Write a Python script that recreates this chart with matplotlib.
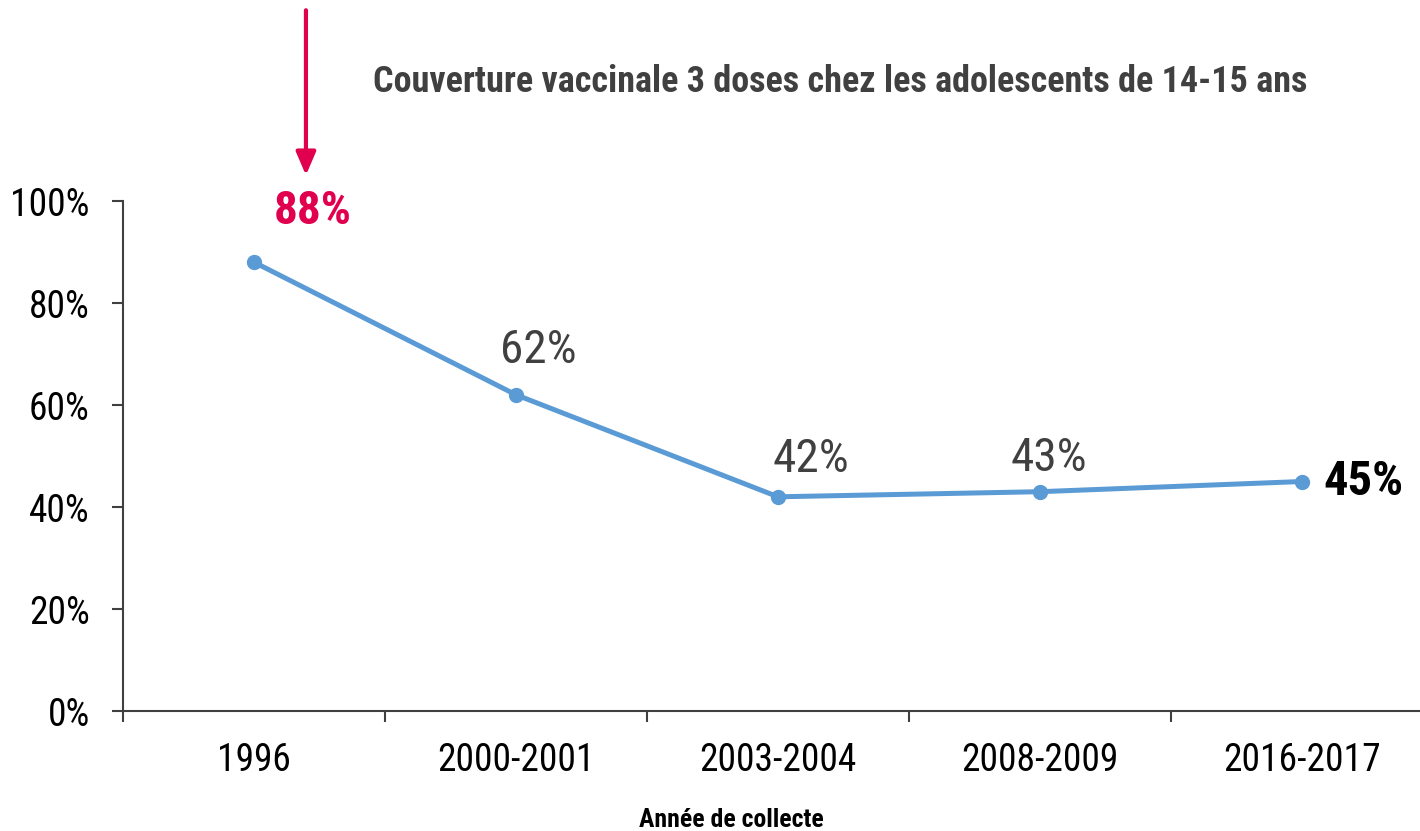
import matplotlib
matplotlib.use("Agg")
import matplotlib.pyplot as plt
from matplotlib.transforms import offset_copy

plt.rcParams['font.family'] = ['Roboto Condensed', 'Liberation Sans', 'DejaVu Sans']

years = ["1996", "2000-2001", "2003-2004", "2008-2009", "2016-2017"]
coverage = [0.88, 0.62, 0.42, 0.43, 0.45]
labels = ["88%", "62%", "42%", "43%", "45%"]
y_ticks = [0, 0.2, 0.4, 0.6, 0.8, 1.0]
y_ticklabels = ["0%", "20%", "40%", "60%", "80%", "100%"]

title = "Couverture vaccinale 3 doses chez les adolescents de 14-15 ans"
xlabel = "Année de collecte"

blue = "#5B9BD5"
red = "#E0004D"
grey = "#404040"

fig = plt.figure(figsize=(14.2, 8.31), dpi=100)
ax = fig.add_axes([123 / 1420, 120 / 831, 1310 / 1420, 510 / 831])

x = list(range(len(years)))
ax.plot(x, coverage, color=blue, lw=3.6, marker='o', ms=10, zorder=3, clip_on=False)

ax.set_xlim(-0.5, len(years) - 0.5)
ax.set_ylim(0, 1)

for s in ['top', 'right']:
    ax.spines[s].set_visible(False)
for s in ['left', 'bottom']:
    ax.spines[s].set_color(grey)
    ax.spines[s].set_linewidth(1.5)

ax.set_yticks(y_ticks)
ax.set_yticklabels(y_ticklabels)
ax.tick_params(axis='y', length=8, width=1.5, color=grey, pad=16, labelsize=27, labelcolor='black')

ax.set_xticks(x)
ax.set_xticklabels(years)
ax.set_xticks([i - 0.5 for i in range(len(years) + 1)], minor=True)
ax.tick_params(axis='x', which='major', length=0, pad=22, labelsize=27, labelcolor='black')
ax.tick_params(axis='x', which='minor', length=8, width=1.5, color=grey)

# value labels (offsets in points from each point)
offsets = [(42, 37), (16, 32), (24, 27), (6.5, 24), (44, 0)]
for i, (lab, off) in enumerate(zip(labels, offsets)):
    if i == 0:
        kw = dict(color=red, fontweight='bold', fontsize=34)
    elif i == len(labels) - 1:
        kw = dict(color='black', fontweight='bold', fontsize=35)
    else:
        kw = dict(color=grey, fontsize=34)
    ax.annotate(lab, (x[i], coverage[i]), xytext=off, textcoords='offset points',
                ha='center', va='center', annotation_clip=False, **kw)

# red arrow above the 1996 point
tip = offset_copy(ax.transData, fig=fig, x=37.4, y=62.6, units='points')
tail = offset_copy(ax.transData, fig=fig, x=37.4, y=181.4, units='points')
ax.annotate('', xy=(x[0], coverage[0]), xycoords=tip,
            xytext=(x[0], coverage[0]), textcoords=tail, annotation_clip=False,
            arrowprops=dict(arrowstyle='-|>,head_width=0.3,head_length=0.7',
                            mutation_scale=20, lw=3, color=red,
                            shrinkA=0, shrinkB=0))

fig.text(840 / 1420, 1 - 92 / 831, title, ha='center', va='baseline',
         fontsize=26, fontweight='bold', color=grey)
fig.text(731 / 1420, 1 - 827 / 831, xlabel, ha='center', va='baseline',
         fontsize=18.5, fontweight='bold', color='black')

fig.savefig("out.png", dpi=100)
